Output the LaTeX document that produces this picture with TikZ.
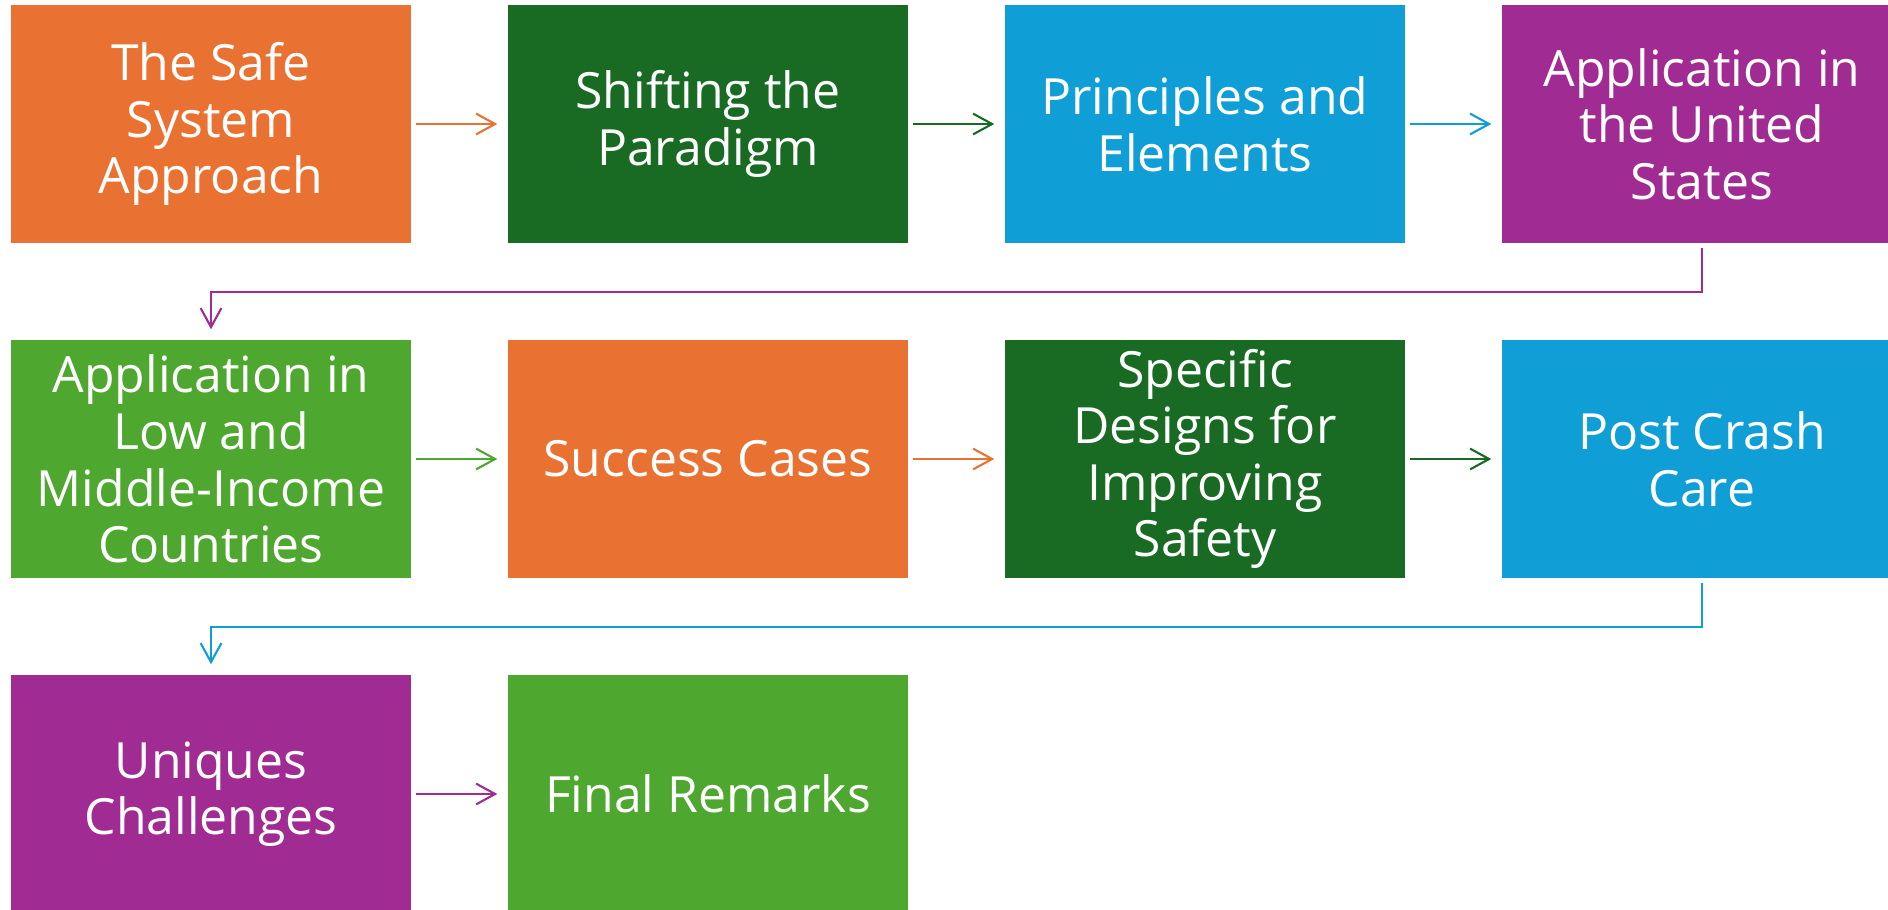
\documentclass[tikz,border=0pt]{standalone}
\usepackage{fontspec}
\setmainfont{Open Sans}
\usepackage{tikz}
\usetikzlibrary{arrows.meta}
\definecolor{orng}{HTML}{E97132}
\definecolor{dgrn}{HTML}{196B24}
\definecolor{blu}{HTML}{0F9ED5}
\definecolor{purp}{HTML}{A02B93}
\definecolor{lgrn}{HTML}{4EA72E}
\tikzset{
  stepbox/.style={draw=none, fill=#1, text=white, align=center, inner sep=0pt,
    minimum width=4cm, minimum height=2.38cm,
    font=\fontsize{14.2}{16.1}\selectfont},
  link/.style={draw=#1, line width=0.6pt, -{Straight Barb[length=5.4pt,width=5.9pt]},
    shorten <=0.04cm, shorten >=0.1cm}
}
\newcommand{\stepnode}[5]{\node[stepbox=#4] (#1) at ( #2 , #3 ) {#5};}
\newcommand{\nextstep}[3]{\draw[link=#3] (#1.east) -- (#2.west);}
\newcommand{\nextrow}[3]{\draw[link=#3] (#1.south) -- ++(0,-0.48) -| (#2.north);}

\begin{document}
\begin{tikzpicture}
        \useasboundingbox (0,0) rectangle (18.88,-9.09);
        % row1
        \stepnode{s1}{2.11}{-1.24}{orng}{The Safe\\System\\Approach}
        \stepnode{s2}{7.08}{-1.24}{dgrn}{Shifting the\\Paradigm}
        \stepnode{s3}{12.05}{-1.24}{blu}{Principles and\\Elements}
        \stepnode{s4}{17.02}{-1.24}{purp}{Application in\\the United\\States}
        % row2
        \stepnode{s5}{2.11}{-4.59}{lgrn}{Application in\\Low and\\Middle-Income\\Countries}
        \stepnode{s6}{7.08}{-4.59}{orng}{Success Cases}
        \stepnode{s7}{12.05}{-4.59}{dgrn}{Specific\\Designs for\\Improving\\Safety}
        \stepnode{s8}{17.02}{-4.59}{blu}{Post Crash\\Care}
        % row3
        \stepnode{s9}{2.11}{-7.94}{purp}{Uniques\\Challenges}
        \stepnode{s10}{7.08}{-7.94}{lgrn}{Final Remarks}

        % arrows along the rows
        \nextstep{s1}{s2}{orng}
        \nextstep{s2}{s3}{dgrn}
        \nextstep{s3}{s4}{blu}
        \nextstep{s5}{s6}{lgrn}
        \nextstep{s6}{s7}{orng}
        \nextstep{s7}{s8}{dgrn}
        \nextstep{s9}{s10}{purp}
        % wrap to the next row
        \nextrow{s4}{s5}{purp}
        \nextrow{s8}{s9}{blu}
\end{tikzpicture}
\end{document}
